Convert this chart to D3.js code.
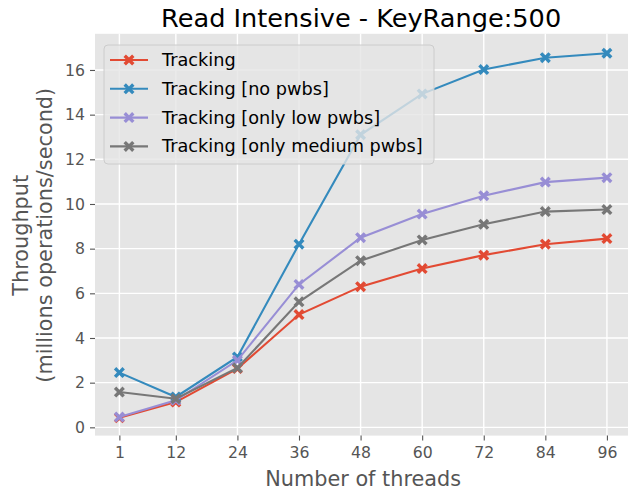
<!DOCTYPE html>
<html>
<head>
<meta charset="utf-8">
<script src="https://cdn.jsdelivr.net/npm/d3@7"></script>
<style>
  body { margin: 0; background: #fff; }
  svg { display: block; font-family: "DejaVu Sans", sans-serif; }
</style>
</head>
<body>
<div id="chart"></div>
<script>
const threads = [1, 12, 24, 36, 48, 60, 72, 84, 96];
const yTicks = [0, 2, 4, 6, 8, 10, 12, 14, 16];

const tracking = [0.43, 1.13, 2.63, 5.05, 6.3, 7.11, 7.71, 8.2, 8.45];
const trackingNoPwbs = [2.45, 1.36, 3.15, 8.2, 13.1, 14.93, 16.02, 16.55, 16.75];
const trackingLowPwbs = [0.46, 1.21, 3.0, 6.4, 8.49, 9.55, 10.37, 10.98, 11.18];
const trackingMediumPwbs = [1.58, 1.28, 2.66, 5.62, 7.46, 8.39, 9.09, 9.66, 9.75];

const seriesNames = ["Tracking", "Tracking [no pwbs]", "Tracking [only low pwbs]", "Tracking [only medium pwbs]"];
const seriesValues = [tracking, trackingNoPwbs, trackingLowPwbs, trackingMediumPwbs];
const colors = ["#E24A33", "#348ABD", "#988ED5", "#777777"];

const width = 628, height = 494;
const margin = { left: 95, right: -3.3, top: 33.8, bottom: 58.4 };

const svg = d3.select("#chart").append("svg")
  .attr("width", width)
  .attr("height", height);

const x = d3.scaleLinear()
  .domain([-3.75, 100.75])
  .range([margin.left, width - margin.right]);

const y = d3.scaleLinear()
  .domain([-0.37, 17.62])
  .range([height - margin.bottom, margin.top]);

// plot background
svg.append("rect")
  .attr("x", margin.left)
  .attr("y", margin.top)
  .attr("width", x.range()[1] - x.range()[0])
  .attr("height", y.range()[0] - y.range()[1])
  .attr("fill", "#E5E5E5");

// grid
svg.append("g").selectAll("line")
  .data(threads)
  .enter().append("line")
  .attr("x1", d => x(d)).attr("x2", d => x(d))
  .attr("y1", margin.top).attr("y2", height - margin.bottom)
  .attr("stroke", "#fff").attr("stroke-width", 1.4);

svg.append("g").selectAll("line")
  .data(yTicks)
  .enter().append("line")
  .attr("y1", d => y(d)).attr("y2", d => y(d))
  .attr("x1", margin.left).attr("x2", width - margin.right)
  .attr("stroke", "#fff").attr("stroke-width", 1.4);

// axes
const xAxis = svg.append("g")
  .attr("transform", `translate(0,${height - margin.bottom})`)
  .call(d3.axisBottom(x).tickValues(threads).tickSize(5).tickPadding(6));

const yAxis = svg.append("g")
  .attr("transform", `translate(${margin.left},0)`)
  .call(d3.axisLeft(y).tickValues(yTicks).tickSize(5).tickPadding(5));

[xAxis, yAxis].forEach(a => {
  a.select(".domain").remove();
  a.selectAll(".tick line").attr("stroke", "#555").attr("stroke-width", 1.1);
  a.selectAll(".tick text")
    .attr("fill", "#555")
    .attr("font-size", "15.7px")
    .attr("font-family", "DejaVu Sans");
});

// filled X marker
const markerPath = ((a, b) => {
  const pts = [
    [-a + b, -a], [0, -b], [a - b, -a], [a, -a + b], [b, 0], [a, a - b],
    [a - b, a], [0, b], [-a + b, a], [-a, a - b], [-b, 0], [-a, -a + b]
  ];
  return "M" + pts.map(p => p.join(",")).join("L") + "Z";
})(5.5, 2.4);

const line = d3.line()
  .x((d, i) => x(threads[i]))
  .y(d => y(d));

seriesValues.forEach((vals, k) => {
  const g = svg.append("g");
  g.append("path")
    .attr("d", line(vals))
    .attr("fill", "none")
    .attr("stroke", colors[k])
    .attr("stroke-width", 2.1);
  g.selectAll("path.m")
    .data(vals)
    .enter().append("path")
    .attr("class", "m")
    .attr("d", markerPath)
    .attr("transform", (d, i) => `translate(${x(threads[i])},${y(d)})`)
    .attr("fill", colors[k]);
});

// legend
const legend = svg.append("g").attr("transform", "translate(104,45)");
legend.append("rect")
  .attr("width", 330)
  .attr("height", 119)
  .attr("rx", 4)
  .attr("fill", "#E5E5E5")
  .attr("fill-opacity", 0.8)
  .attr("stroke", "#CCCCCC")
  .attr("stroke-width", 1);

seriesNames.forEach((name, k) => {
  const row = legend.append("g").attr("transform", `translate(0,${15 + k * 28.8})`);
  row.append("line")
    .attr("x1", 6).attr("x2", 44)
    .attr("stroke", colors[k]).attr("stroke-width", 2.1);
  row.append("path")
    .attr("d", markerPath)
    .attr("transform", "translate(25,0)")
    .attr("fill", colors[k]);
  row.append("text")
    .attr("x", 58)
    .attr("y", 6)
    .attr("font-size", "17.7px")
    .attr("fill", "#000")
    .text(name);
});

// title and labels
svg.append("text")
  .attr("x", (x.range()[0] + x.range()[1]) / 2 - 2)
  .attr("y", 27)
  .attr("text-anchor", "middle")
  .attr("font-size", "25.6px")
  .attr("fill", "#000")
  .text("Read Intensive - KeyRange:500");

svg.append("text")
  .attr("x", (x(1) + x(96)) / 2)
  .attr("y", 486)
  .attr("text-anchor", "middle")
  .attr("font-size", "20.8px")
  .attr("fill", "#555")
  .text("Number of threads");

const yLab = svg.append("text")
  .attr("transform", `translate(0,${y(8.6)}) rotate(-90)`)
  .attr("text-anchor", "middle")
  .attr("font-size", "20.8px")
  .attr("fill", "#555");
yLab.append("tspan").attr("x", 0).attr("y", 28).text("Throughput");
yLab.append("tspan").attr("x", 0).attr("y", 52).text("(millions operations/second)");
</script>
</body>
</html>
